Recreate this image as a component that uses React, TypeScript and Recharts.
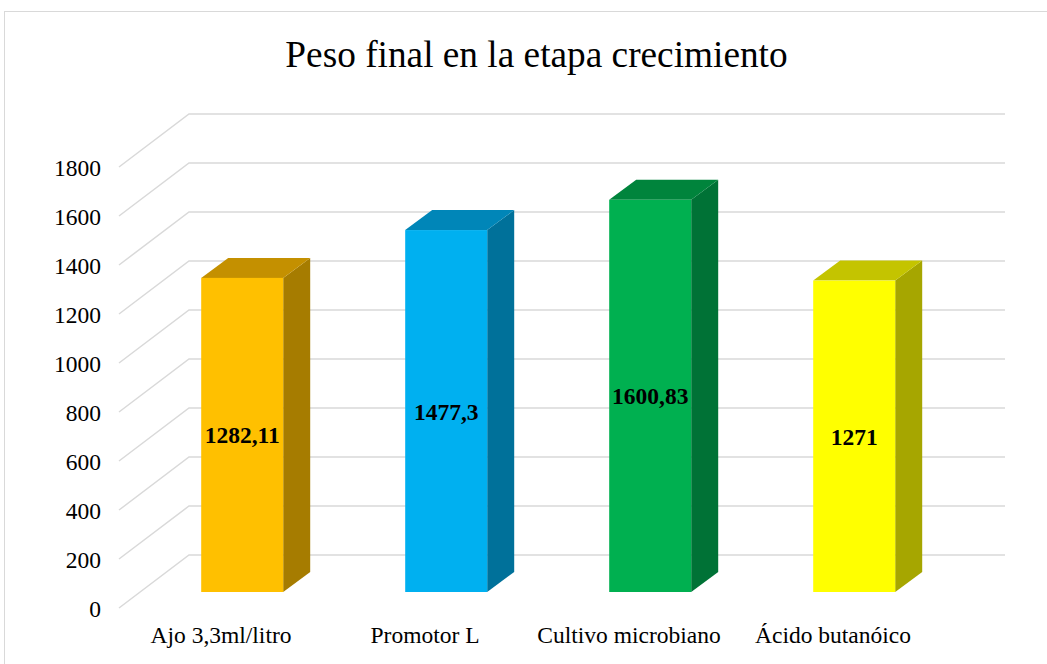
import { BarChart, Bar, XAxis, YAxis, CartesianGrid, LabelList } from 'recharts';

const categories = ['Ajo 3,3ml/litro', 'Promotor L', 'Cultivo microbiano', 'Ácido butanóico'];
const pesoFinal = [1282.11, 1477.3, 1600.83, 1271];
const yTicks = [0, 200, 400, 600, 800, 1000, 1200, 1400, 1600, 1800];

const frontColors = ['#FFC000', '#00B0F0', '#00B050', '#FFFF00'];
const topColors = ['#C49000', '#0086B8', '#00843C', '#C4C400'];
const sideColors = ['#A67C00', '#00719A', '#007236', '#A6A600'];

const data = categories.map((name, i) => ({ name, value: pesoFinal[i] }));

const FONT = 'Liberation Serif';
const FS = 23.5;
// 3D offsets: bar depth, back wall and front edge relative to the bar plane
const DEPTH = { dx: 27, dy: -20 };
const BACK = { dx: 49, dy: -37 };
const FRONT = { dx: -21, dy: 16 };

function Box3D(props: any) {
  const { x, y, width, height, index } = props;
  if (height == null || height <= 0) return null;
  const { dx, dy } = DEPTH;
  const top = `${x},${y} ${x + dx},${y + dy} ${x + width + dx},${y + dy} ${x + width},${y}`;
  const side = `${x + width},${y} ${x + width + dx},${y + dy} ${x + width + dx},${y + height + dy} ${x + width},${y + height}`;
  return (
    <g>
      <polygon points={side} fill={sideColors[index]} />
      <polygon points={top} fill={topColors[index]} />
      <rect x={x} y={y} width={width} height={height} fill={frontColors[index]} />
    </g>
  );
}

function GridLine(props: any) {
  const { x1, x2, y1 } = props;
  const path = `M${x1 + FRONT.dx},${y1 + FRONT.dy} L${x1 + BACK.dx},${y1 + BACK.dy} L${x2 + BACK.dx},${y1 + BACK.dy}`;
  return <path d={path} fill="none" stroke="#d9d9d9" strokeWidth={1.5} />;
}

function YTick(props: any) {
  const { y, payload } = props;
  return (
    <text x={101} y={y + FRONT.dy + 9} textAnchor="end" style={{ fontSize: FS, fontFamily: FONT }} fill="#000">
      {payload.value}
    </text>
  );
}

function XTick(props: any) {
  const { x, payload } = props;
  return (
    <text x={x + FRONT.dx} y={643} textAnchor="middle" style={{ fontSize: FS, fontFamily: FONT }} fill="#000">
      {payload.value}
    </text>
  );
}

function ValueLabel(props: any) {
  const { x, y, width, height, value } = props;
  return (
    <text x={x + width / 2} y={y + height / 2 + 8.5} textAnchor="middle" style={{ fontSize: FS, fontWeight: 'bold', fontFamily: FONT }} fill="#000">
      {String(value).replace('.', ',')}
    </text>
  );
}

export default function App() {
  return (
    <div style={{ position: 'absolute', left: 0, top: 0, width: 1047, height: 664, overflow: 'hidden', background: '#fff', fontFamily: FONT }}>
      <div style={{ position: 'absolute', left: 4, top: 11, width: 1100, height: 700, border: '1.5px solid #d9d9d9' }} />
      <div style={{ position: 'absolute', left: 0, top: 33, width: 1073, textAlign: 'center', fontFamily: FONT, fontSize: 37.3, color: '#000', lineHeight: '44px' }}>
        Peso final en la etapa crecimiento
      </div>
      <div style={{ position: 'absolute', left: 0, top: 0 }}>
        <BarChart width={1047} height={664} data={data} barCategoryGap="30%" margin={{ top: 151, right: 91, bottom: 42, left: 40 }}>
          <CartesianGrid vertical={false} horizontal={(p: any) => <GridLine key={p.key} {...p} />} />
          <XAxis dataKey="name" height={30} axisLine={false} tickLine={false} tick={<XTick />} interval={0} />
          <YAxis domain={[0, 1800]} ticks={yTicks} width={100} axisLine={false} tickLine={false} tick={<YTick />} />
          <Bar dataKey="value" shape={<Box3D />} isAnimationActive={false}>
            <LabelList dataKey="value" content={<ValueLabel />} />
          </Bar>
        </BarChart>
      </div>
    </div>
  );
}
